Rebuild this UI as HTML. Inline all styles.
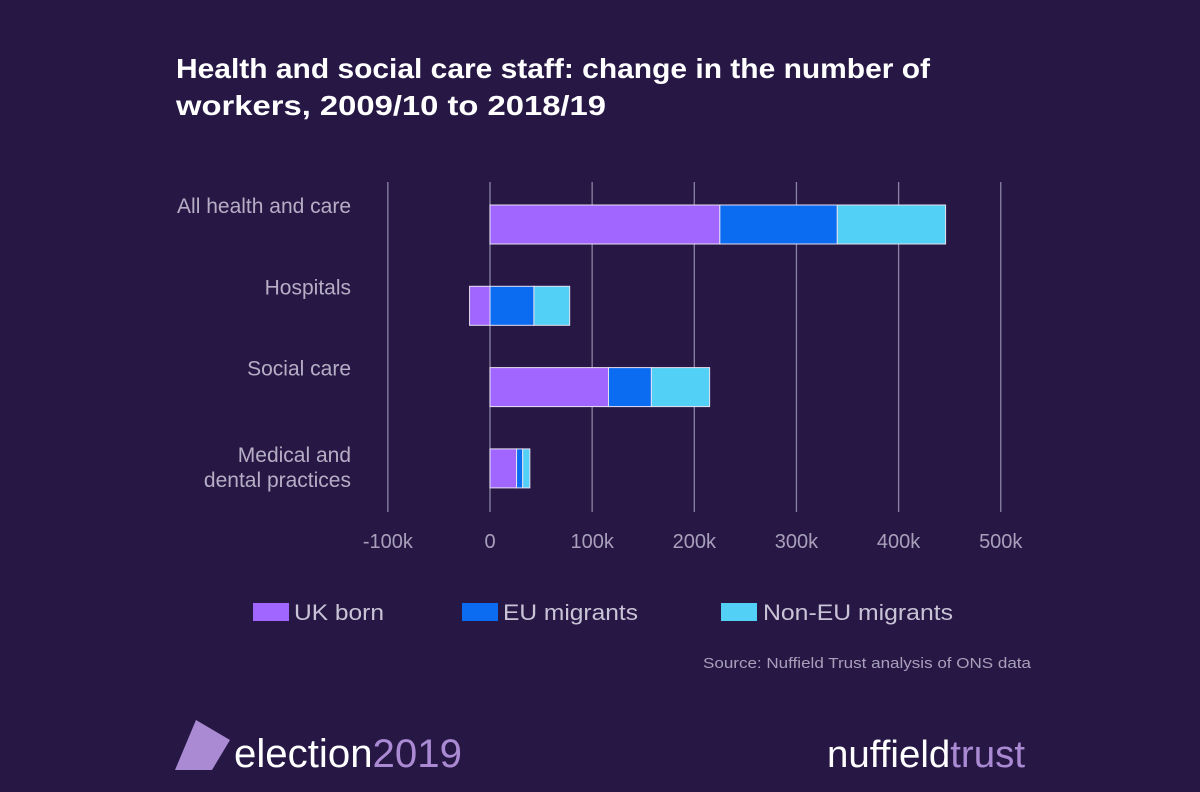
<!DOCTYPE html>
<html><head><meta charset="utf-8"><style>
body{margin:0;width:1200px;height:792px;background:#261745;overflow:hidden;font-family:"Liberation Sans",sans-serif}
svg{display:block}
</style></head><body>
<svg width="1200" height="792" id="c">
<text x="176" y="78" fill="#fff" font-size="28" font-weight="bold" textLength="754" lengthAdjust="spacingAndGlyphs">Health and social care staff: change in the number of</text>
<text x="176" y="115" fill="#fff" font-size="28" font-weight="bold" textLength="430" lengthAdjust="spacingAndGlyphs">workers, 2009/10 to 2018/19</text>
<g id="grid"></g><g id="bars"></g><g id="cats"></g><g id="ticks"></g>
<g>
<rect x="253" y="603" width="36" height="18" fill="#a066ff"/>
<text x="294" y="620" fill="#c9c3d6" font-size="22" textLength="90" lengthAdjust="spacingAndGlyphs">UK born</text>
<rect x="462" y="603" width="36" height="18" fill="#0b6cf2"/>
<text x="503" y="620" fill="#c9c3d6" font-size="22" textLength="135" lengthAdjust="spacingAndGlyphs">EU migrants</text>
<rect x="721" y="603" width="36" height="18" fill="#52d0f5"/>
<text x="763" y="620" fill="#c9c3d6" font-size="22" textLength="190" lengthAdjust="spacingAndGlyphs">Non-EU migrants</text>
</g>
<text x="1031" y="668" text-anchor="end" fill="#a8a0bb" font-size="15" textLength="328" lengthAdjust="spacingAndGlyphs">Source: Nuffield Trust analysis of ONS data</text>
<polygon points="196,720 230,740 212,770 175,770" fill="#ab8ad4"/>
<text x="234" y="767" font-size="40" fill="#fff" textLength="228" lengthAdjust="spacingAndGlyphs">election<tspan fill="#ab8ad4">2019</tspan></text>
<text x="827" y="767" font-size="38" fill="#fff" textLength="198" lengthAdjust="spacingAndGlyphs">nuffield<tspan fill="#ab8ad4">trust</tspan></text>
</svg>
<script>
const categories=["All health and care","Hospitals","Social care","Medical and|dental practices"];
const ukBorn=[225,-20,116,26];
const euMigrants=[115,43,42,6];
const nonEuMigrants=[106,35,57,7];
const tickValues=[-100,0,100,200,300,400,500];
const tickLabels=["-100k","0","100k","200k","300k","400k","500k"];
const NS="http://www.w3.org/2000/svg";
const x=v=>490+v*1.0215;
const rowY=i=>205+i*81.3;
function mk(t,a,p){const e=document.createElementNS(NS,t);for(const k in a)e.setAttribute(k,a[k]);document.getElementById(p).appendChild(e);return e;}
tickValues.forEach((v,i)=>{
 const l=mk('line',{x1:x(v),x2:x(v),y1:182,y2:512,stroke:'#8c84a3','stroke-width':1.3},'grid');
 
 
 const t=mk('text',{x:x(v),y:548,'text-anchor':'middle',fill:'#a8a0bb','font-size':20},'ticks');
 t.textContent=tickLabels[i];
 
 
});
const series=[[ukBorn,'#a066ff','bar-uk-born'],[euMigrants,'#0b6cf2','bar-eu-migrants'],[nonEuMigrants,'#52d0f5','bar-non-eu-migrants']];
categories.forEach((c,i)=>{
 let pos=0,neg=0;
 series.forEach(([arr,col,nm])=>{
  const v=arr[i];let a,b;
  if(v>=0){a=pos;b=pos+v;pos=b;}else{b=neg;a=neg+v;neg=a;}
  const r=mk('rect',{x:x(a),y:rowY(i),width:x(b)-x(a),height:39,fill:col,stroke:'#e6e0f0','stroke-width':1},'bars');
  
  
 });
 const lines=c.split('|');
 lines.forEach((s,j)=>{
  const t=mk('text',{x:351,y:(lines.length>1?rowY(i)+13+j*25:rowY(i)+8),'text-anchor':'end',fill:'#b5aec5','font-size':21},'cats');
  t.textContent=s;
  
  
 });
});
</script>
</body></html>
